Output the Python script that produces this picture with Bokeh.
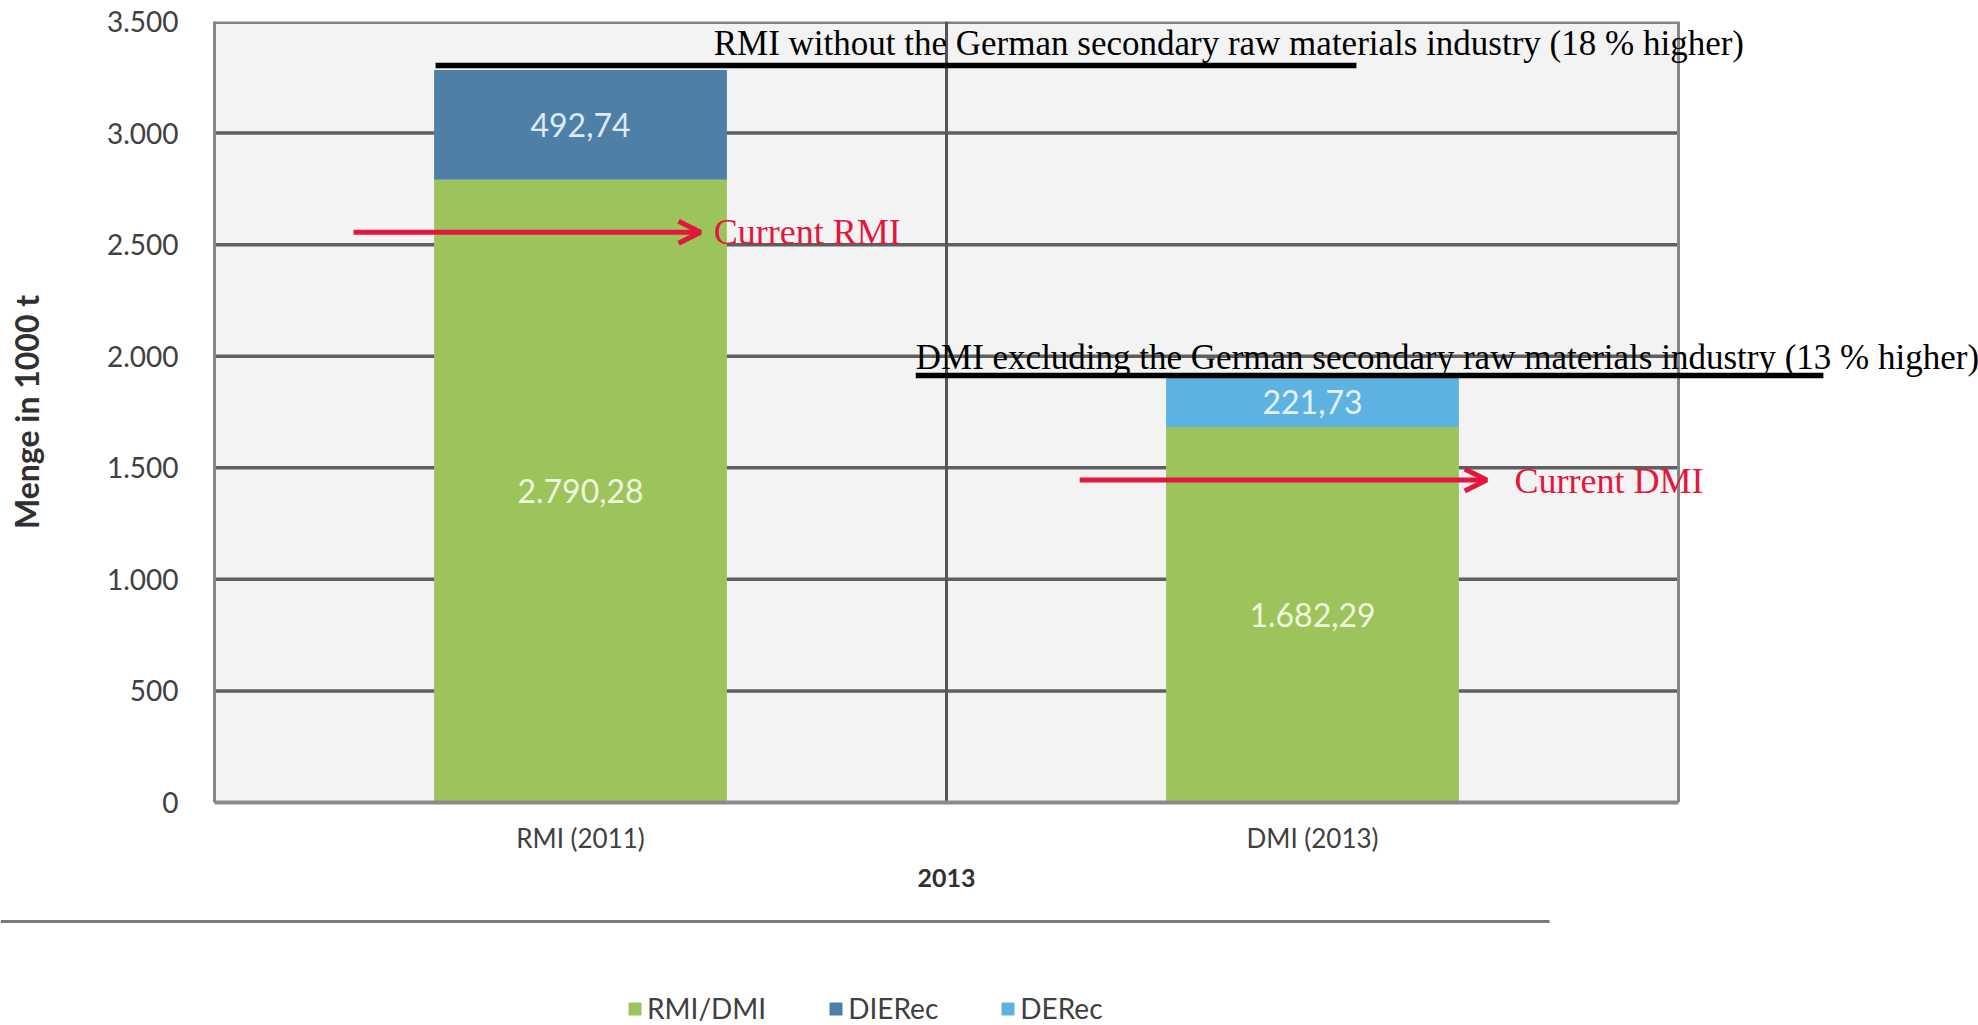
from bokeh.plotting import figure
from bokeh.layouts import column
from bokeh.models import (Range1d, Label, Arrow, OpenHead, LinearAxis,
                          ColumnDataSource, FixedTicker)
from bokeh.embed import file_html
from bokeh.resources import INLINE
from bokeh.core.properties import value

# ---------------- data ----------------
categories = ["RMI (2011)", "DMI (2013)"]
group_label = "2013"
series_names = ["RMI/DMI", "DIERec", "DERec"]
rmi_dmi = [2790.28, 1682.29]
dierec = [492.74, 0.0]
derec = [0.0, 221.73]
y_ticks = [0, 500, 1000, 1500, 2000, 2500, 3000, 3500]
y_tick_labels = ["0", "500", "1.000", "1.500", "2.000", "2.500", "3.000", "3.500"]
y_axis_title = "Menge in 1000 t"
annot_rmi = "RMI without the German secondary raw materials industry (18 % higher)"
annot_dmi = "DMI excluding the German secondary raw materials industry (13 % higher)"
current_rmi = "Current RMI"
current_dmi = "Current DMI"

colors = ["#9dc45c", "#4d7fa7", "#5eb2e2"]
label_colors = ["#eef6dc", "#dbeaf6", "#e3f2fb"]
RED = "#e3173e"
SERIF = "Liberation Serif"
SANS = "Lato"
GRID = "#5f5f5f"
BORDER = "#858585"


def de_fmt(v):
    s = f"{v:,.2f}"
    return s.replace(",", "X").replace(".", ",").replace("X", ".")


n_cat = len(categories)
xs = [i + 0.5 for i in range(n_cat)]
y_max = y_ticks[-1]

data = {"x": xs}
for n, vals in zip(series_names, [rmi_dmi, dierec, derec]):
    data[n] = vals
src = ColumnDataSource(data)

W = 1978
H1 = 905
p = figure(width=W, height=H1,
           x_range=Range1d(0, n_cat * 1764 / 1464),
           y_range=Range1d(0, y_max),
           output_backend="svg", toolbar_location=None,
           min_border_left=214, min_border_right=0,
           min_border_top=21, min_border_bottom=103,
           x_axis_type=None)
p.frame_align = False

p.background_fill_color = "white"
p.border_fill_color = "white"
p.outline_line_color = None
p.xgrid.grid_line_color = None
p.ygrid.grid_line_color = None

# plot area background and grid (limited to the category span)
p.quad(left=0, right=n_cat, bottom=0, top=y_max, fill_color="#f3f3f3", line_color=None)
p.segment(x0=[0] * (len(y_ticks) - 2), x1=[n_cat] * (len(y_ticks) - 2),
          y0=y_ticks[1:-1], y1=y_ticks[1:-1], line_color=GRID, line_width=3.5)
p.segment(x0=[0], x1=[n_cat], y0=[y_max], y1=[y_max], line_color=BORDER, line_width=5)
p.segment(x0=[n_cat], x1=[n_cat], y0=[0], y1=[y_max], line_color=BORDER, line_width=3)
# category separators
p.segment(x0=list(range(1, n_cat)), x1=list(range(1, n_cat)),
          y0=[0] * (n_cat - 1), y1=[y_max] * (n_cat - 1), line_color="#555555", line_width=3)

renderers = p.vbar_stack(series_names, x="x", width=0.4, source=src,
                         color=colors, line_color=None)

# segment value labels
lx, ly, lt, lc = [], [], [], []
for i in range(n_cat):
    base = 0.0
    for k, vals in enumerate([rmi_dmi, dierec, derec]):
        v = vals[i]
        if v > 0:
            lx.append(xs[i])
            ly.append(base + v / 2)
            lt.append(de_fmt(v))
            lc.append(label_colors[k])
        base += v
lsrc = ColumnDataSource(dict(x=lx, y=ly, t=lt, c=lc))
p.text(x="x", y="y", text="t", source=lsrc, text_color="c",
       text_align="center", text_baseline="middle",
       text_font=value(SANS), text_font_size="32px")

# y axis
p.yaxis.ticker = FixedTicker(ticks=y_ticks)
p.yaxis.major_label_overrides = {t: l for t, l in zip(y_ticks, y_tick_labels)}
p.yaxis.axis_label = y_axis_title
p.yaxis.axis_label_text_font = SANS
p.yaxis.axis_label_text_font_style = "bold"
p.yaxis.axis_label_text_font_size = "32px"
p.yaxis.axis_label_text_color = "#303030"
p.yaxis.axis_label_standoff = 58
p.yaxis.major_label_text_font = SANS
p.yaxis.major_label_text_font_size = "28px"
p.yaxis.major_label_text_color = "#404040"
p.yaxis.major_label_standoff = 30
p.yaxis.major_tick_line_color = None
p.yaxis.minor_tick_line_color = None
p.yaxis.axis_line_color = BORDER
p.yaxis.axis_line_width = 3

# x axis: categories
xaxis = LinearAxis(ticker=FixedTicker(ticks=xs),
                   major_label_overrides={x: c for x, c in zip(xs, categories)},
                   bounds=(0, n_cat))
xaxis.major_label_text_font = SANS
xaxis.major_label_text_font_size = "26px"
xaxis.major_label_text_color = "#404040"
xaxis.major_label_standoff = 13
xaxis.major_tick_line_color = None
xaxis.minor_tick_line_color = None
xaxis.axis_line_color = "#8a8a8a"
xaxis.axis_line_width = 4
p.add_layout(xaxis, "below")

# x axis: group level
group_x = n_cat / 2
gaxis = LinearAxis(ticker=FixedTicker(ticks=[group_x]),
                   major_label_overrides={group_x: group_label},
                   bounds=(0, n_cat))
gaxis.major_label_text_font = SANS
gaxis.major_label_text_font_style = "bold"
gaxis.major_label_text_font_size = "25px"
gaxis.major_label_text_color = "#303030"
gaxis.major_label_standoff = 6
gaxis.major_tick_line_color = None
gaxis.minor_tick_line_color = None
gaxis.axis_line_color = None
p.add_layout(gaxis, "below")

# annotations
rmi_total = rmi_dmi[0] + dierec[0] + derec[0]
dmi_total = rmi_dmi[1] + dierec[1] + derec[1]
p.add_layout(Arrow(end=None, x_start=0.302, y_start=rmi_total + 20,
                   x_end=1.56, y_end=rmi_total + 20, line_color="black", line_width=5.5))
p.add_layout(Label(x=0.682, y=rmi_total + 120, text=annot_rmi, text_font=SERIF,
                   text_font_size="35px", text_color="black", text_baseline="middle"))
p.add_layout(Arrow(end=None, x_start=0.958, y_start=dmi_total + 10,
                   x_end=2.198, y_end=dmi_total + 10, line_color="black", line_width=5.5))
p.add_layout(Label(x=0.958, y=dmi_total + 92, text=annot_dmi, text_font=SERIF,
                   text_font_size="35px", text_color="black", text_baseline="middle"))

p.add_layout(Arrow(end=OpenHead(line_color=RED, line_width=5, size=22),
                   x_start=0.19, y_start=2556, x_end=0.664, y_end=2556,
                   line_color=RED, line_width=5))
p.add_layout(Label(x=0.682, y=2556, text=current_rmi, text_font=SERIF,
                   text_font_size="36px", text_color=RED, text_baseline="middle"))
p.add_layout(Arrow(end=OpenHead(line_color=RED, line_width=5, size=22),
                   x_start=1.182, y_start=1445, x_end=1.738, y_end=1445,
                   line_color=RED, line_width=5))
p.add_layout(Label(x=1.776, y=1440, text=current_dmi, text_font=SERIF,
                   text_font_size="36px", text_color=RED, text_baseline="middle"))

# ---------------- bottom strip: separator + legend ----------------
H2 = 1025 - H1
p2 = figure(width=W, height=H2, x_range=Range1d(0, W), y_range=Range1d(0, H2),
            output_backend="svg", toolbar_location=None,
            min_border=0, min_border_left=0, min_border_right=0,
            min_border_top=0, min_border_bottom=0,
            x_axis_type=None, y_axis_type=None)
p2.frame_align = False
p2.outline_line_color = None
p2.xgrid.grid_line_color = None
p2.ygrid.grid_line_color = None
p2.background_fill_color = "white"
p2.border_fill_color = "white"
p2.segment(x0=[0], x1=[1549], y0=[H2 - 16], y1=[H2 - 16], line_color="#7a7a7a", line_width=3)
for n, c in zip(series_names, colors):
    p2.vbar(x=[0], top=[0], bottom=[0], width=0, color=c, legend_label=n)
lg = p2.legend[0]
lg.orientation = "horizontal"
lg.location = (627, 0)
lg.background_fill_alpha = 0
lg.border_line_color = None
lg.padding = 0
lg.margin = 0
lg.spacing = 62
lg.glyph_width = 15
lg.glyph_height = 15
lg.label_standoff = 5
lg.label_text_font = SANS
lg.label_text_font_size = "28px"
lg.label_text_color = "#404040"

layout = column(p, p2, spacing=0)
open("out.html", "w").write(file_html(layout, INLINE))
